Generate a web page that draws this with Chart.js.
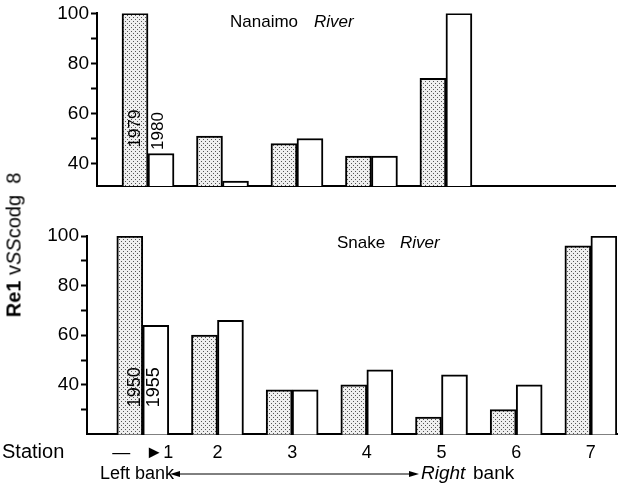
<!DOCTYPE html>
<html>
<head>
<meta charset="utf-8">
<script src="https://cdn.jsdelivr.net/npm/chart.js@4"></script>
<style>
  body { margin: 0; background: #fff; }
  #wrap { position: relative; width: 619px; height: 485px; overflow: hidden; }
  canvas { position: absolute; left: 0; }
  #ytitle {
    position: absolute; left: 14px; top: 245px;
    transform: translate(-50%, -50%) rotate(-90deg);
    font: 20px "Liberation Sans", Arial, sans-serif; white-space: nowrap; color: #000;
  }
</style>
</head>
<body>
<div id="wrap">
  <canvas id="top" width="619" height="200" style="top:0"></canvas>
  <canvas id="bottom" width="619" height="285" style="top:200px"></canvas>
  <div id="ytitle"><b>Re1</b> v<i>SS</i>codg&nbsp;&nbsp;8</div>
</div>
<script>
const stations = [1, 2, 3, 4, 5, 6, 7];
const stationLabels = ['—   ►1', '2', '3', '4', '5', '6', '7'];
const yTicks = [30, 40, 50, 60, 70, 80, 90, 100];

// Nanaimo River (stippled = 1979, open = 1980)
const nanaimo1979 = [100, 51, 48, 43, 74, null, null];
const nanaimo1980 = [44, 33, 50, 43, 100, null, null];

// Snake River (stippled = 1950, open = 1955)
const snake1950 = [100, 60, 38, 40, 27, 30, 96];
const snake1955 = [64, 66, 38, 46, 44, 40, 100];

const FONT = '"Liberation Sans", Arial, sans-serif';

const makeStipple = () => {
  const tile = document.createElement('canvas');
  tile.width = 4; tile.height = 4;
  const g = tile.getContext('2d');
  g.fillStyle = '#efefef';
  g.fillRect(0, 0, 4, 4);
  g.fillStyle = '#555';
  g.fillRect(1, 1, 1, 1);
  g.fillRect(3, 3, 1, 1);
  return document.createElement('canvas').getContext('2d').createPattern(tile, 'repeat');
};
const stipple = makeStipple();

const toPoints = values => stations.map((s, i) => ({ x: s, y: values[i] }));

const barSet = (values, fill) => ({
  data: toPoints(values),
  backgroundColor: fill,
  borderColor: '#000',
  borderWidth: 2,
  barThickness: 26
});

const yAxis = (min, width) => ({
  min: min,
  max: 100,
  afterBuildTicks: scale => {
    scale.ticks = yTicks.filter(v => v >= min).map(v => ({ value: v }));
  },
  afterFit: scale => { scale.width = width; },
  grid: { drawOnChartArea: false, tickLength: 6, color: '#000', tickWidth: 2 },
  border: { color: '#000', width: 2 },
  ticks: {
    color: '#000',
    font: { family: FONT, size: 19 },
    padding: 2,
    callback: v => (v % 20 === 0 ? String(v) : '')
  }
});

const drawText = (ctx, text, x, y, opts) => {
  ctx.save();
  ctx.font = opts.font;
  ctx.fillStyle = '#000';
  ctx.textAlign = opts.align || 'left';
  ctx.textBaseline = 'middle';
  ctx.translate(x, y);
  if (opts.rotate) ctx.rotate(opts.rotate);
  ctx.fillText(text, 0, 0);
  ctx.restore();
};

const topNotes = {
  id: 'topNotes',
  afterDraw(chart) {
    const ctx = chart.ctx;
    const xs = chart.scales.x;
    const ys = chart.scales.y;
    drawText(ctx, 'Nanaimo', 230, 22, { font: `17px ${FONT}` });
    drawText(ctx, 'River', 314, 22, { font: `italic 17px ${FONT}` });
    const x1 = xs.getPixelForValue(1);
    drawText(ctx, '1979', x1 - 13, ys.getPixelForValue(54), { font: `17px ${FONT}`, align: 'center', rotate: -Math.PI / 2 });
    drawText(ctx, '1980', x1 + 10, ys.getPixelForValue(53), { font: `17px ${FONT}`, align: 'center', rotate: -Math.PI / 2 });
  }
};

const bottomNotes = {
  id: 'bottomNotes',
  afterDraw(chart) {
    const ctx = chart.ctx;
    const xs = chart.scales.x;
    const ys = chart.scales.y;
    drawText(ctx, 'Snake', 337, 43, { font: `17px ${FONT}` });
    drawText(ctx, 'River', 400, 43, { font: `italic 17px ${FONT}` });
    const x1 = xs.getPixelForValue(1);
    drawText(ctx, '1950', x1 - 8, ys.getPixelForValue(39), { font: `18px ${FONT}`, align: 'center', rotate: -Math.PI / 2 });
    drawText(ctx, '1955', x1 + 11, ys.getPixelForValue(39), { font: `18px ${FONT}`, align: 'center', rotate: -Math.PI / 2 });
    drawText(ctx, 'Station', 2, 252, { font: `20px ${FONT}` });
    // bank arrow
    const yA = 274;
    drawText(ctx, 'Left bank', 100, yA, { font: `18px ${FONT}` });
    drawText(ctx, 'Right', 421, yA, { font: `italic 19px ${FONT}` });
    drawText(ctx, 'bank', 473, yA, { font: `19px ${FONT}` });
    ctx.save();
    ctx.strokeStyle = '#000';
    ctx.lineWidth = 1;
    ctx.beginPath();
    ctx.moveTo(176, yA);
    ctx.lineTo(412, yA);
    ctx.stroke();
    ctx.fillStyle = '#000';
    ctx.beginPath();
    ctx.moveTo(170, yA); ctx.lineTo(180, yA - 3); ctx.lineTo(180, yA + 3); ctx.closePath(); ctx.fill();
    ctx.beginPath();
    ctx.moveTo(419, yA); ctx.lineTo(409, yA - 3); ctx.lineTo(409, yA + 3); ctx.closePath(); ctx.fill();
    ctx.restore();
  }
};

new Chart(document.getElementById('top'), {
  type: 'bar',
  data: { datasets: [barSet(nanaimo1979, stipple), barSet(nanaimo1980, '#fff')] },
  options: {
    responsive: false,
    animation: false,
    layout: { padding: { top: 4, right: 4, bottom: 6, left: 0 } },
    plugins: { legend: { display: false }, tooltip: { enabled: false } },
    scales: {
      x: {
        type: 'linear', min: 0.315, max: 7.27, offset: false,
        grid: { display: false, offset: false },
        border: { color: '#000', width: 2 },
        ticks: { display: false }
      },
      y: yAxis(31, 97)
    }
  },
  plugins: [topNotes]
});

new Chart(document.getElementById('bottom'), {
  type: 'bar',
  data: { datasets: [barSet(snake1950, stipple), barSet(snake1955, '#fff')] },
  options: {
    responsive: false,
    animation: false,
    layout: { padding: { top: 36, right: 2, bottom: 21, left: 0 } },
    plugins: { legend: { display: false }, tooltip: { enabled: false } },
    scales: {
      x: {
        type: 'linear', min: 0.253, max: 7.35, offset: false,
        afterBuildTicks: scale => { scale.ticks = stations.map(v => ({ value: v })); },
        grid: { display: false, offset: false },
        border: { color: '#000', width: 2 },
        ticks: {
          color: '#000', font: { family: FONT, size: 18 }, padding: 0, maxRotation: 0,
          callback: v => stationLabels[stations.indexOf(v)] || ''
        }
      },
      y: yAxis(20, 87)
    }
  },
  plugins: [bottomNotes]
});
</script>
</body>
</html>
